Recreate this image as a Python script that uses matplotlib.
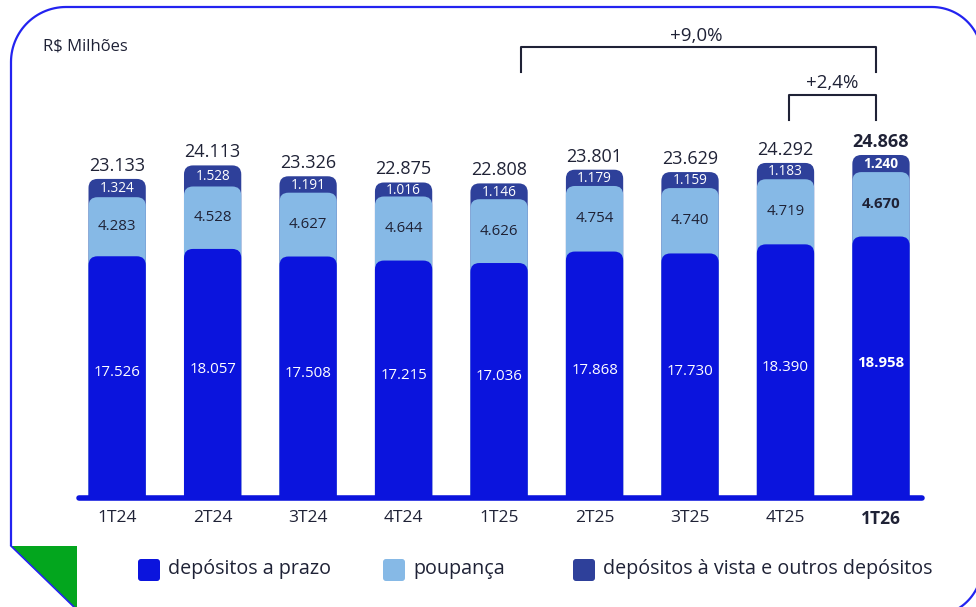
import numpy as np
import matplotlib
matplotlib.use("Agg")
import matplotlib.pyplot as plt
from matplotlib.patches import FancyBboxPatch, Polygon
from matplotlib.path import Path
from matplotlib.patches import PathPatch

plt.rcParams['font.family'] = ['Open Sans', 'DejaVu Sans']

categories = ["1T24", "2T24", "3T24", "4T24", "1T25", "2T25", "3T25", "4T25", "1T26"]
prazo = [17526, 18057, 17508, 17215, 17036, 17868, 17730, 18390, 18958]
poupanca = [4283, 4528, 4627, 4644, 4626, 4754, 4740, 4719, 4670]
vista = [1324, 1528, 1191, 1016, 1146, 1179, 1159, 1183, 1240]
totals = [23133, 24113, 23326, 22875, 22808, 23801, 23629, 24292, 24868]
series_names = ["depósitos a prazo", "poupança", "depósitos à vista e outros depósitos"]
brackets = [("+9,0%", 4, 8), ("+2,4%", 7, 8)]

C_PRAZO = "#0B14DD"
C_POUP = "#86B9E6"
C_VISTA = "#2E409A"
C_TEXT = "#1F2236"
C_BORDER = "#2323F0"
C_GREEN = "#03A61E"

def fmt(v):
    return f"{v:,}".replace(",", ".")

W, H = 976, 607
fig = plt.figure(figsize=(W / 100, H / 100), dpi=100)

# overlay for frame decorations (pixel coordinates)
ov = fig.add_axes([0, 0, 1, 1])
ov.set_xlim(0, W)
ov.set_ylim(H, 0)
ov.axis("off")

def arc(cx, cy, r, a0, a1, n=30):
    t = np.radians(np.linspace(a0, a1, n))
    return list(zip(cx + r * np.cos(t), cy + r * np.sin(t)))

pts = [(11, 546), (11, 62)]
pts += arc(66, 62, 55, 180, 270)
pts += [(932, 7)]
pts += arc(932, 57, 50, 270, 360)
pts += [(982, 566)]
pts += arc(932, 566, 50, 0, 90)
ov.add_patch(PathPatch(Path(pts), fill=False, edgecolor=C_BORDER, lw=1.6))
ov.add_patch(Polygon([(11, 546), (77, 546), (77, 608), (75, 608)], closed=True,
                     facecolor=C_GREEN, edgecolor="none"))
ov.plot([11, 75], [546, 608], color=C_BORDER, lw=1.2)
ov.text(43, 46, "R$ Milhões", fontsize=12, color=C_TEXT, va="center", ha="left")

# legend (manual, rounded squares)
leg_x = [138, 383, 573]
leg_cols = [C_PRAZO, C_POUP, C_VISTA]
for lx, col, name in zip(leg_x, leg_cols, series_names):
    ov.add_patch(FancyBboxPatch((lx, 559), 22, 22, boxstyle="round,pad=0,rounding_size=3",
                                facecolor=col, edgecolor="none"))
    ov.text(lx + 30, 569, name, fontsize=14.2, color=C_TEXT, va="center", ha="left")

# main axes
x0_px, x1_px = 78, 923
base_px, top_px = 498, 20
ax = fig.add_axes([x0_px / W, (H - base_px) / H, (x1_px - x0_px) / W, (base_px - top_px) / H])
ax.patch.set_alpha(0)
n = len(categories)
ax.set_xlim(-0.41, n - 1 + 0.44)
ax.set_ylim(0, (base_px - top_px) * 72.5)
for s in ax.spines.values():
    s.set_visible(False)
ax.set_yticks([])
x = np.arange(n)
ax.set_xticks(x)
ax.set_xticklabels(categories, fontsize=12.5, color=C_TEXT)
ax.tick_params(axis="x", length=0, pad=9)
ax.get_xticklabels()[-1].set_fontweight("bold")

# aspect for rounded corners
xu_per_px = (ax.get_xlim()[1] - ax.get_xlim()[0]) / (x1_px - x0_px)
yu_per_px = (ax.get_ylim()[1] - ax.get_ylim()[0]) / (base_px - top_px)
aspect = yu_per_px / xu_per_px
bw = 0.6
r = 9 * xu_per_px

c1 = np.array(prazo)
c2 = c1 + np.array(poupanca)
c3 = c2 + np.array(vista)
for i in range(n):
    bold = "bold" if i == n - 1 else "normal"
    for top, col in [(c3[i], C_VISTA), (c2[i], C_POUP), (c1[i], C_PRAZO)]:
        ax.add_patch(FancyBboxPatch((x[i] - bw / 2, -2000), bw, top + 2000,
                                    boxstyle=f"round,pad=0,rounding_size={r}",
                                    mutation_aspect=aspect, facecolor=col, edgecolor="none",
                                    zorder=2))
    ax.text(x[i], c1[i] / 2 + 300, fmt(prazo[i]), ha="center", va="center", color="white",
            fontsize=10.8, fontweight=bold, zorder=4)
    ax.text(x[i], (c1[i] + c2[i]) / 2, fmt(poupanca[i]), ha="center", va="center",
            color=C_TEXT, fontsize=10.8, fontweight=bold, zorder=4)
    ax.text(x[i], (c2[i] + c3[i]) / 2 - 50, fmt(vista[i]), ha="center", va="center",
            color="white", fontsize=9.8, fontweight=bold, zorder=4)
    ax.annotate(fmt(totals[i]), (x[i], c3[i]), xytext=(0, 3), textcoords="offset points",
                ha="center", va="bottom", fontsize=13, color=C_TEXT, fontweight=bold, zorder=4)

ax.plot([ax.get_xlim()[0] + 0.01, ax.get_xlim()[1] - 0.01], [0, 0], color=C_PRAZO, lw=4,
        solid_capstyle="round", zorder=5, clip_on=False)

# brackets
def py(p):
    return (base_px - p) * yu_per_px

bspec = [(4.23, 7.95, 47, 72, 36, 6.07), (7.04, 7.95, 95, 120, 83, 7.49)]
for (label, a, b), (xa, xb, yh, yl, yt, xt) in zip(brackets, bspec):
    ax.plot([xa, xa, xb, xb], [py(yl), py(yh), py(yh), py(yl)], color=C_TEXT, lw=1.5,
            zorder=3, clip_on=False)
    ax.text(xt, py(yt), label, ha="center", va="center", fontsize=13.5, color=C_TEXT)

fig.savefig("out.png", dpi=100)
